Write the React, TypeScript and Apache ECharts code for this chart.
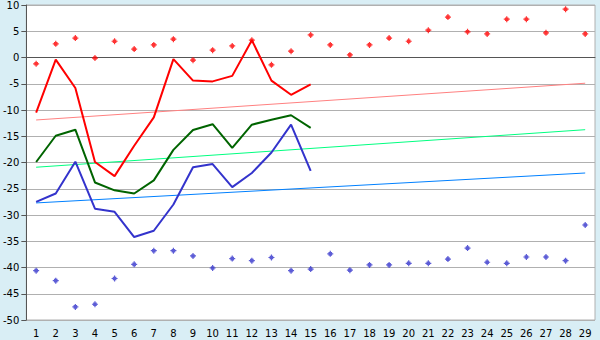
import React, { useEffect, useRef } from "react";
import * as echarts from "echarts";

const categories = ["1","2","3","4","5","6","7","8","9","10","11","12","13","14","15","16","17","18","19","20","21","22","23","24","25","26","27","28","29"];

const redLine = [-10.5, -0.4, -5.8, -19.9, -22.6, -16.8, -11.4, -0.3, -4.4, -4.55, -3.5, 3.3, -4.4, -7.1, -5.1];
const greenLine = [-19.9, -14.9, -13.75, -23.8, -25.3, -25.9, -23.4, -17.6, -13.8, -12.7, -17.2, -12.8, -11.85, -11.0, -13.4];
const blueLine = [-27.5, -25.9, -19.85, -28.8, -29.4, -34.2, -33.0, -28.0, -20.9, -20.3, -24.7, -22.0, -18.1, -12.8, -21.6];

const redDots = [-1.2, 2.6, 3.7, -0.1, 3.1, 1.6, 2.4, 3.5, -0.5, 1.4, 2.2, 3.3, -1.4, 1.2, 4.3, 2.4, 0.5, 2.4, 3.7, 3.1, 5.2, 7.7, 4.9, 4.5, 7.3, 7.3, 4.7, 9.2, 4.5];
const blueDots = [-40.6, -42.5, -47.5, -47.0, -42.1, -39.4, -36.8, -36.8, -37.8, -40.1, -38.3, -38.7, -38.1, -40.6, -40.3, -37.4, -40.5, -39.5, -39.5, -39.2, -39.2, -38.4, -36.3, -39.0, -39.2, -38.0, -38.0, -38.7, -31.9];

const trendEnds = ["1", "29"];
const redTrend = [-11.9, -4.9];
const greenTrend = [-20.9, -13.75];
const blueTrend = [-27.7, -22.0];

const yTicks = { min: -50, max: 10, interval: 5 };

const marker = "path://M2,0H3V1H4V2H5V3H4V4H3V5H2V4H1V3H0V2H1V1H2Z";
const font = "DejaVu Sans";

export default function App() {
  const ref = useRef<HTMLDivElement>(null);
  useEffect(() => {
    if (!ref.current) return;
    const chart = echarts.init(ref.current, null, { renderer: "svg" });
    const lineSeries = (name: string, data: number[], color: string) => ({
      name,
      type: "line",
      data,
      symbol: "none",
      lineStyle: { color, width: 2 },
      z: 3,
    });
    const trendSeries = (name: string, vals: number[], color: string) => ({
      name,
      type: "line",
      data: trendEnds.map((c, i) => [c, vals[i]]),
      symbol: "none",
      lineStyle: { color, width: 1 },
      z: 2,
    });
    const dotSeries = (name: string, data: number[], color: string) => ({
      name,
      type: "scatter",
      data,
      symbol: marker,
      symbolSize: 6,
      itemStyle: { color },
      z: 4,
    });
    chart.setOption({
      animation: false,
      backgroundColor: "#d9eef5",
      grid: {
        left: 26,
        right: 5,
        top: 5,
        bottom: 20,
        show: true,
        backgroundColor: "#ffffff",
        borderColor: "#b0b0b0",
        borderWidth: 1,
      },
      xAxis: {
        type: "category",
        data: categories,
        boundaryGap: true,
        axisLine: { lineStyle: { color: "#555555", width: 1 } },
        axisTick: { alignWithLabel: true, length: 5, lineStyle: { color: "#555555" } },
        axisLabel: { color: "#000000", fontFamily: font, fontSize: 10, margin: 8, interval: 0 },
        splitLine: { show: false },
      },
      yAxis: {
        type: "value",
        min: yTicks.min,
        max: yTicks.max,
        interval: yTicks.interval,
        axisLine: { show: true, lineStyle: { color: "#555555", width: 1 } },
        axisTick: { show: true, length: 5, lineStyle: { color: "#555555" } },
        axisLabel: { color: "#000000", fontFamily: font, fontSize: 10, margin: 7 },
        splitLine: { lineStyle: { color: "#b0b0b0", width: 1 } },
      },
      series: [
        trendSeries("redTrend", redTrend, "#ff8080"),
        trendSeries("greenTrend", greenTrend, "#00ff80"),
        trendSeries("blueTrend", blueTrend, "#0080ff"),
        lineSeries("red", redLine, "#ff0000"),
        lineSeries("green", greenLine, "#006400"),
        lineSeries("blue", blueLine, "#3333cc"),
        dotSeries("redDots", redDots, "#ff0000"),
        dotSeries("blueDots", blueDots, "#3333cc"),
      ],
    });
    return () => chart.dispose();
  }, []);
  return (
    <div
      ref={ref}
      style={{ position: "fixed", left: 0, top: 0, width: 600, height: 340 }}
    />
  );
}
